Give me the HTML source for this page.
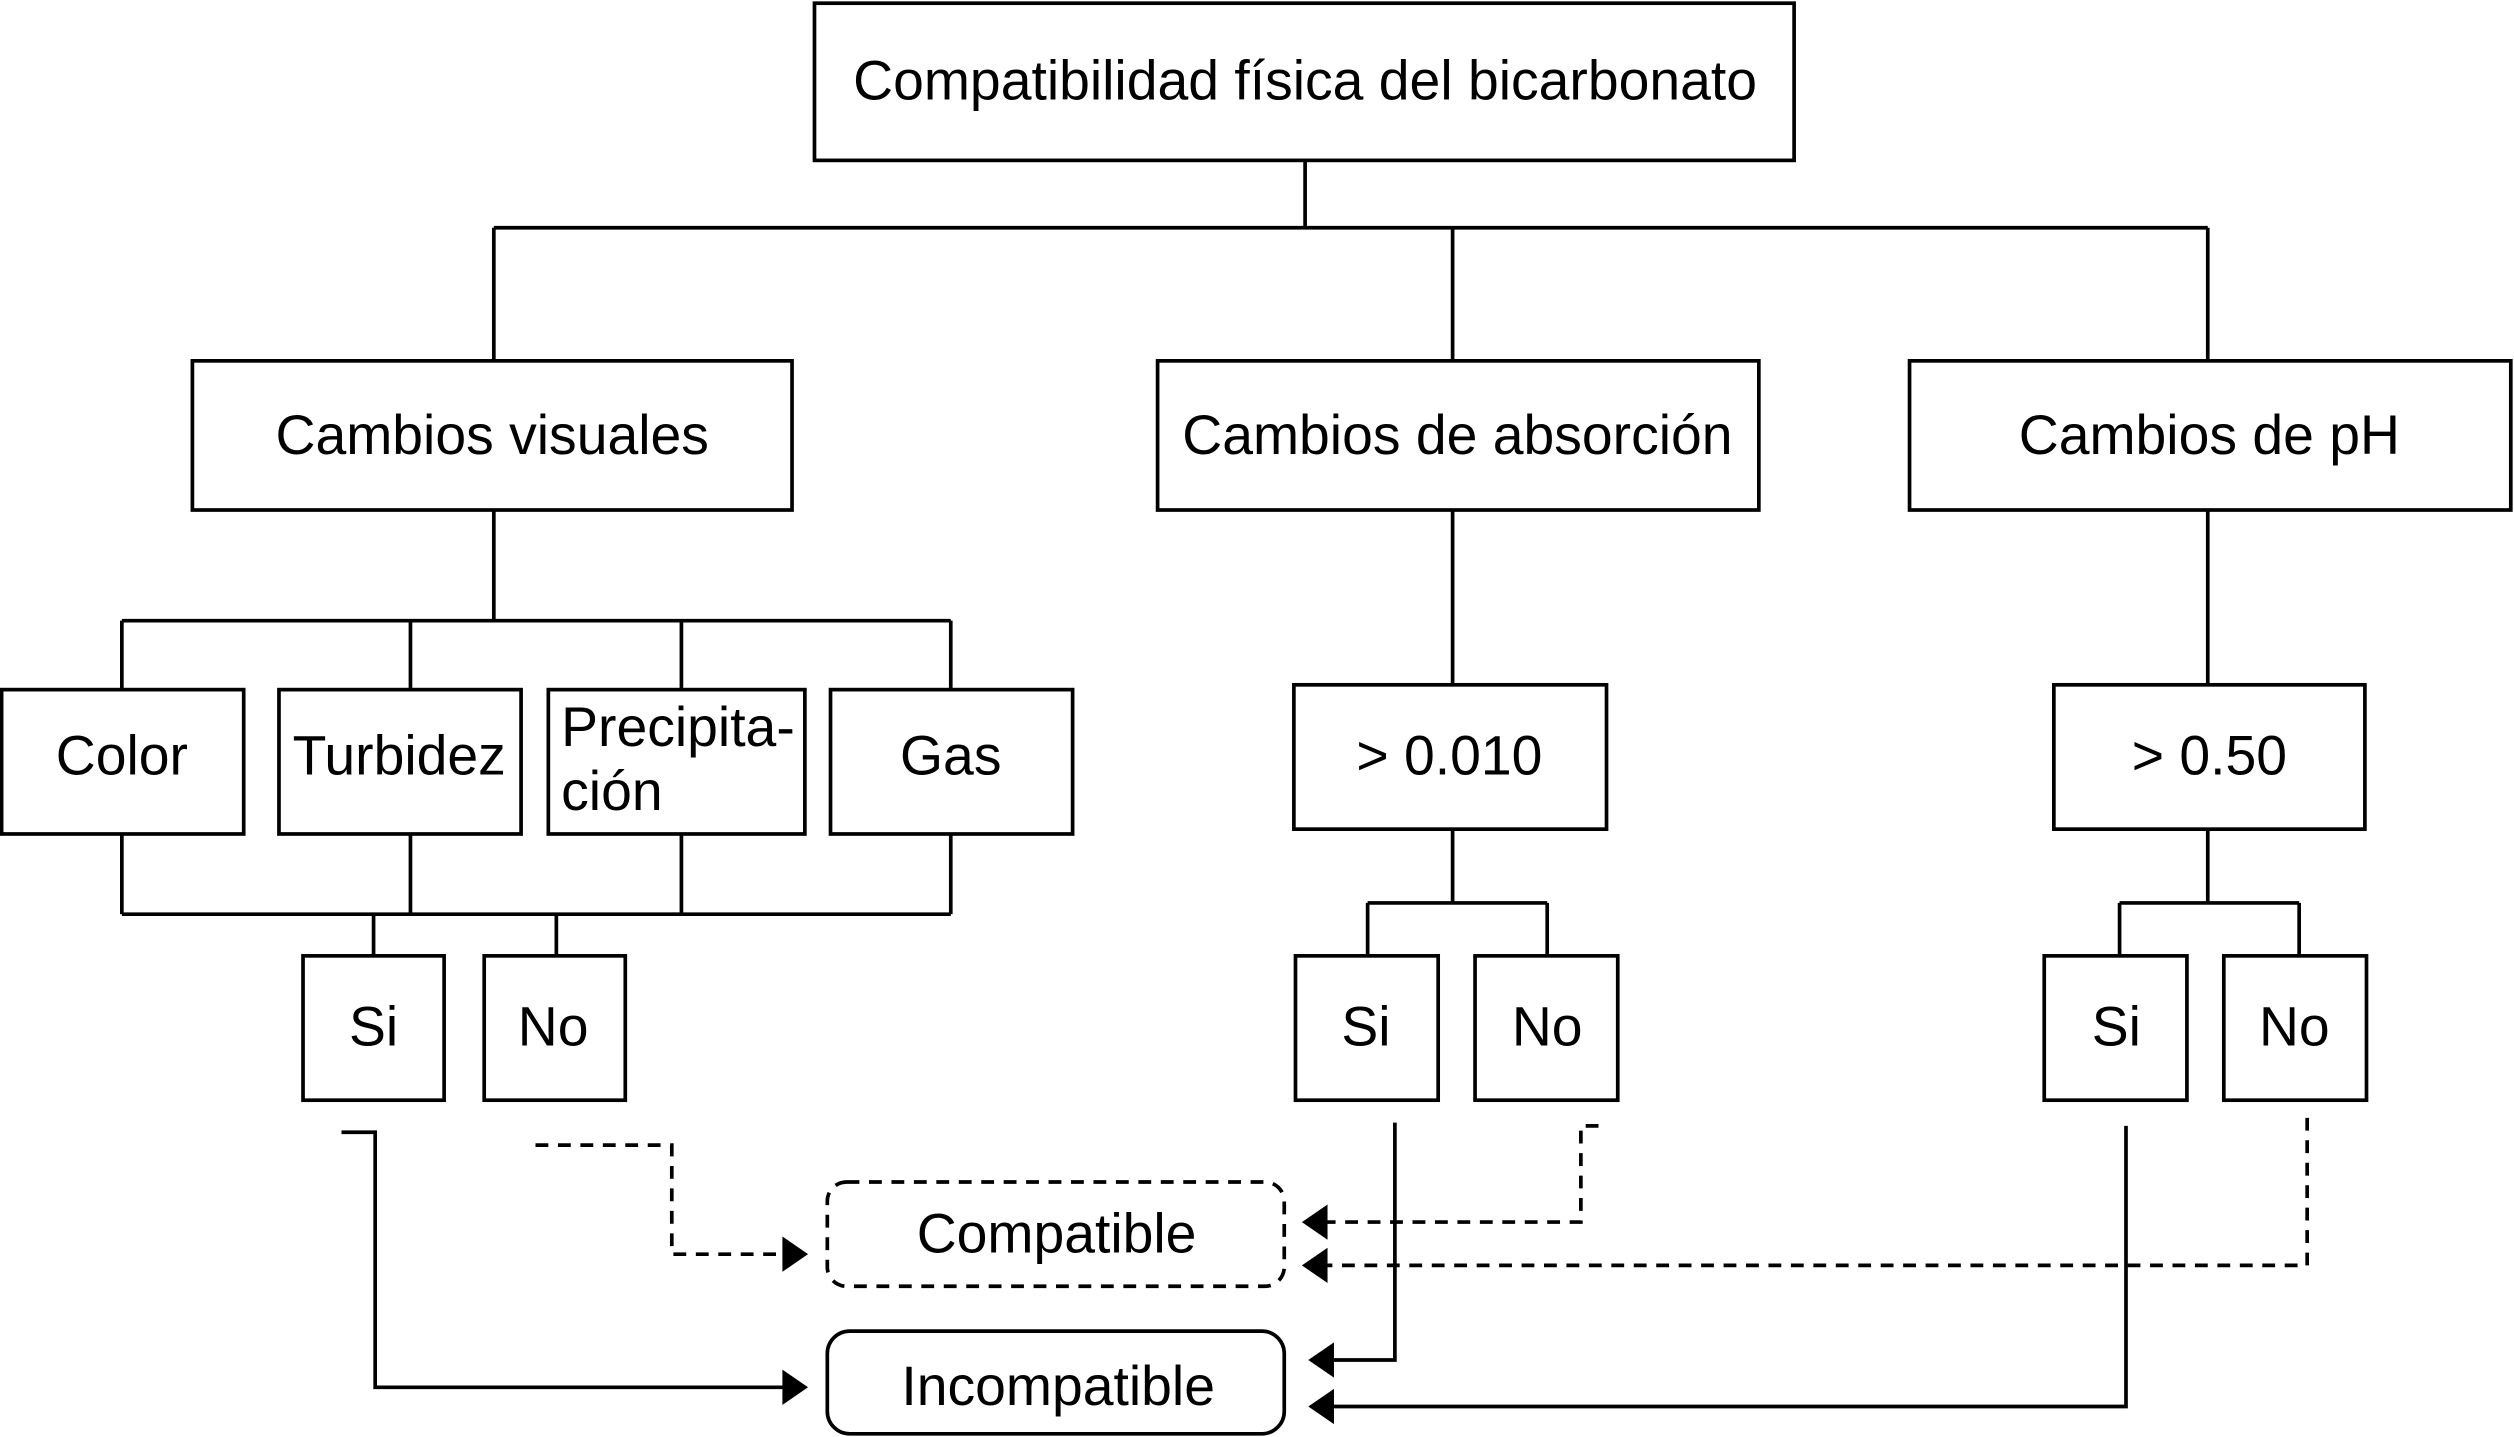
<!DOCTYPE html>
<html><head><meta charset="utf-8"><style>
html,body{margin:0;padding:0;background:#fff;}
svg{display:block;}
text{font-family:"Liberation Sans",Arial,sans-serif;font-size:34.5px;fill:#000;text-anchor:middle;}
</style></head><body>
<svg width="2514" height="1437" viewBox="0 0 1568 896" preserveAspectRatio="none" xmlns="http://www.w3.org/2000/svg">
<g fill="none" stroke="#000" stroke-width="2.3">
<rect x="508" y="2" width="611" height="98"/>
<path d="M814 100V142M308 142H1377M308 142V225M906 142V225M1377 142V225"/>
<rect x="120" y="225" width="374" height="93"/>
<rect x="722" y="225" width="375" height="93"/>
<rect x="1191" y="225" width="375" height="93"/>
<path d="M308 318V387M76 387H593M76 387V430M256 387V430M425 387V430M593 387V430"/>
<rect x="1" y="430" width="151" height="90"/>
<rect x="174" y="430" width="151" height="90"/>
<rect x="342" y="430" width="160" height="90"/>
<rect x="518" y="430" width="151" height="90"/>
<path d="M76 520V570M256 520V570M425 520V570M593 520V570M76 570H593M233 570V596M347 570V596"/>
<rect x="189" y="596" width="88" height="90"/>
<rect x="302" y="596" width="88" height="90"/>
<path d="M906 318V427"/>
<rect x="807" y="427" width="195" height="90"/>
<path d="M906 517V563M853 563H965M853 563V596M965 563V596"/>
<rect x="808" y="596" width="89" height="90"/>
<rect x="920" y="596" width="89" height="90"/>
<path d="M1377 318V427"/>
<rect x="1281" y="427" width="194" height="90"/>
<path d="M1377 517V563M1322 563H1434M1322 563V596M1434 563V596"/>
<rect x="1275" y="596" width="89" height="90"/>
<rect x="1387" y="596" width="89" height="90"/>
<rect x="516" y="737" width="285" height="65" rx="12" stroke-dasharray="8,6"/>
<rect x="516" y="830" width="285" height="64" rx="14"/>
<path d="M213 706H234V865H490"/>
<path d="M334 714H419V782H490" stroke-dasharray="8,6"/>
<path d="M870 700V848H830"/>
<path d="M997 702H986V762H826" stroke-dasharray="8,6"/>
<path d="M1326 702V877H830"/>
<path d="M1439 697V789H826" stroke-dasharray="8,6"/>
</g>
<g fill="#000">
<path d="M504 865L488 854V876z"/>
<path d="M504 782L488 771V793z"/>
<path d="M816 848L832 837V859z"/>
<path d="M812 762L828 751V773z"/>
<path d="M816 877L832 866V888z"/>
<path d="M812 789L828 778V800z"/>
</g>
<text x="814" y="62">Compatibilidad física del bicarbonato</text>
<text x="307" y="283">Cambios visuales</text>
<text x="909" y="283">Cambios de absorción</text>
<text x="1378" y="283">Cambios de pH</text>
<text x="76" y="483">Color</text>
<text x="249" y="483">Turbidez</text>
<text x="350" y="465" style="text-anchor:start">Precipita-</text>
<text x="350" y="505" style="text-anchor:start">ción</text>
<text x="593" y="483">Gas</text>
<text x="904" y="483">&gt; 0.010</text>
<text x="1378" y="483">&gt; 0.50</text>
<text x="233" y="652">Si</text>
<text x="345" y="652">No</text>
<text x="852" y="652">Si</text>
<text x="965" y="652">No</text>
<text x="1320" y="652">Si</text>
<text x="1431" y="652">No</text>
<text x="659" y="781">Compatible</text>
<text x="660" y="876">Incompatible</text>
</svg>
</body></html>
